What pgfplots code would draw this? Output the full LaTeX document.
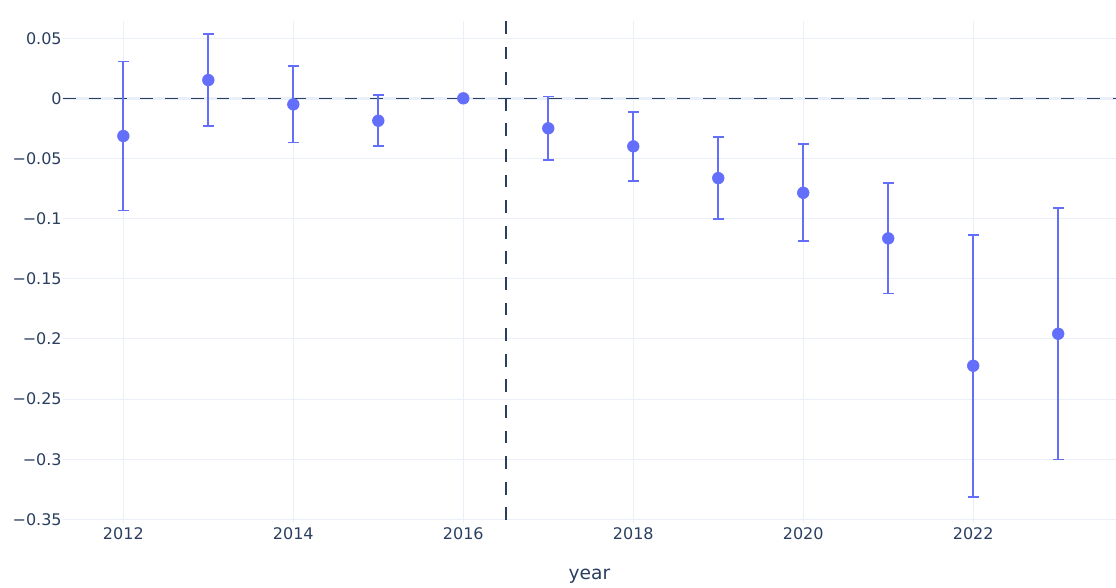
\documentclass[border=0pt]{standalone}
\usepackage{fontspec}
\setmainfont{DejaVu Sans}
\usepackage{pgfplots}
\usepackage{pgfplotstable}
\pgfplotsset{compat=1.18}

\definecolor{txt}{HTML}{2A3F5F}
\definecolor{gridc}{HTML}{EBF0F8}
\definecolor{ptc}{HTML}{636EFA}
\definecolor{refl}{HTML}{2A3F5F}

% event-study coefficients (2016 is the reference year) and CI half-widths
\pgfplotstableread{
year  coef     err
2012  -0.0313  0.0620
2013   0.0152  0.0382
2014  -0.0050  0.0317
2015  -0.0186  0.0213
2016   0.0000  0.0000
2017  -0.0249  0.0264
2018  -0.0399  0.0286
2019  -0.0663  0.0340
2020  -0.0785  0.0403
2021  -0.1164  0.0458
2022  -0.2223  0.1090
2023  -0.1957  0.1046
}\coefs

\begin{document}
\begin{tikzpicture}
\useasboundingbox (-47.25pt,-48.375pt) rectangle (789.75pt,391.875pt);
\begin{axis}[
  at={(0,0)}, anchor=south west,
  scale only axis, width=789.75pt, height=376.125pt,
  xmin=2011.29, xmax=2023.68, ymin=-0.3526, ymax=0.0643,
  axis line style={draw=none},
  major tick length=0pt,
  xtick={2012,2014,2016,2018,2020,2022},
  xticklabels={2012,2014,2016,2018,2020,2022},
  ytick={-0.35,-0.3,-0.25,-0.2,-0.15,-0.1,-0.05,0,0.05},
  yticklabels={−0.35,−0.3,−0.25,−0.2,−0.15,−0.1,−0.05,0,0.05},
  grid=major,
  major grid style={gridc, line width=0.75pt},
  ticklabel style={font=\fontsize{12}{14}\selectfont, text=txt},
  yticklabel style={anchor=east, inner sep=0pt, xshift=-0.8pt},
  xticklabel style={anchor=north, inner sep=0pt, yshift=-3.6pt},
  xlabel={year},
  every axis x label/.style={at={(axis description cs:0.5,0)}, anchor=base,
    yshift=-42.75pt, inner sep=0pt, font=\fontsize{14}{16}\selectfont, text=txt},
]
% zero line band and dashed reference lines
\addplot[gridc, line width=2.2pt, forget plot] coordinates {(2011.29,0) (2023.68,0)};
\addplot[refl, line width=1.25pt, dash pattern=on 9.6pt off 9.6pt, forget plot]
  coordinates {(2011.29,0) (2023.68,0)};
\addplot[refl, line width=1.25pt, dash pattern=on 9.6pt off 9.6pt, forget plot]
  coordinates {(2016.5,0.0643) (2016.5,-0.3526)};
% coefficients with confidence intervals
\addplot[only marks, mark=*, mark size=4.4pt, color=ptc,
  mark options={draw=none, fill=ptc},
  error bars/.cd, y dir=both, y explicit,
  error bar style={ptc, line width=1.3pt},
  error mark options={rotate=90, ptc, mark size=4pt, line width=1.3pt}]
  table[x=year, y=coef, y error=err]{\coefs};
\end{axis}
\end{tikzpicture}
\end{document}
